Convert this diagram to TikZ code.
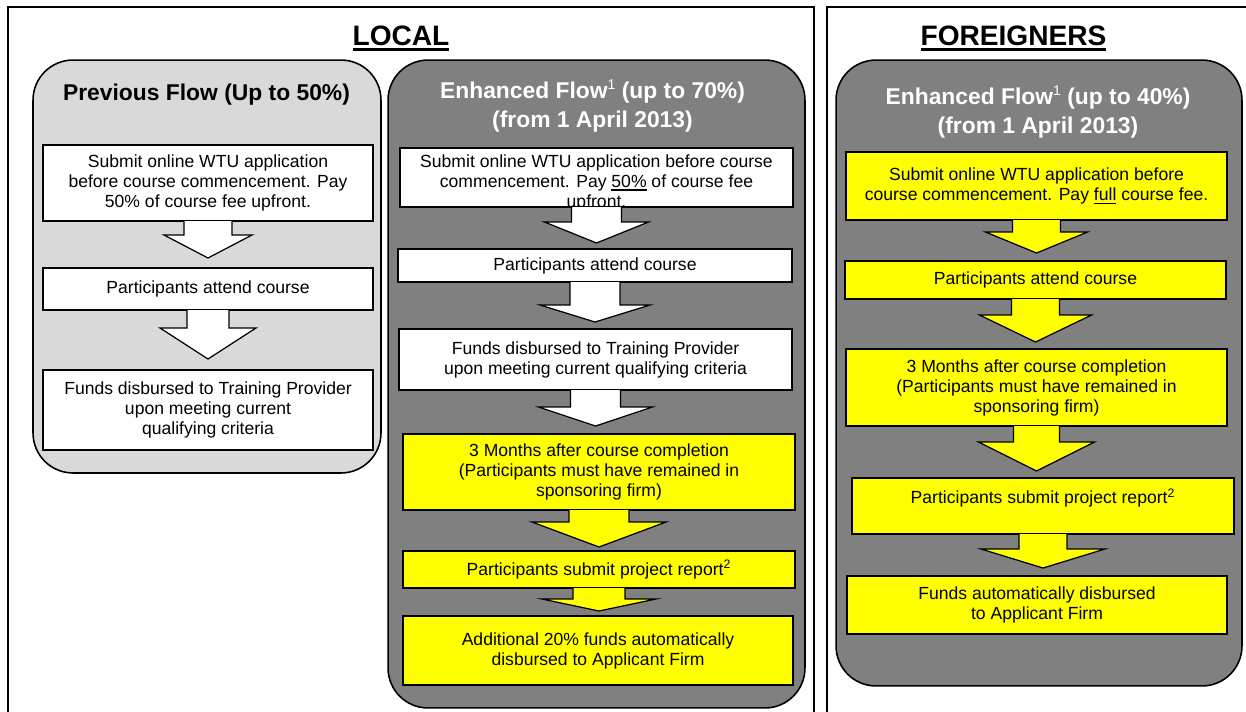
\documentclass[tikz,border=0pt]{standalone}
\usepackage{fontspec}
\setmainfont{Liberation Sans}
\usetikzlibrary{calc}
\definecolor{panellight}{HTML}{D9D9D9}
\definecolor{paneldark}{HTML}{808080}
\definecolor{stepyellow}{HTML}{FFFF00}
\newcommand{\undl}[1]{\setbox0\hbox{#1}\rlap{\rule[-0.2em]{\wd0}{0.08em}}\box0\relax}
\newcommand{\footmark}[1]{\raisebox{0.75ex}{\normalfont\fontsize{8}{8}\selectfont #1}}
\newcommand{\blockarrow}[7][white]{%
\draw[arrowv1,fill=#1] ($(#2.south)+(-#4,0)$) -- ($(#2.south)+(-#4,#6)$) -- ($(#2.south)+(-#5,#6)$) -- ($(#2.south |- #3.north)+(0,-#7)$) -- ($(#2.south)+(#5,#6)$) -- ($(#2.south)+(#4,#6)$) -- ($(#2.south)+(#4,0)$);}
\tikzset{
whiteboxv1/.style={rectangle, draw=black, fill=white, line width=0.8pt, inner xsep=2pt, inner ysep=0pt, outer sep=0pt, align=center, font=\fontsize{10}{11.4}\selectfont},
yellowboxv1/.style={whiteboxv1, fill=stepyellow},
boxtextv1/.style={align=center, inner sep=0pt, font=\fontsize{10}{11.4}\selectfont},
lightpanelv1/.style={rectangle, rounded corners=0.8cm, draw=black, fill=panellight, line width=0.9pt},
darkpanelv1/.style={lightpanelv1, fill=paneldark},
headingv1/.style={font=\fontsize{16}{19}\selectfont\bfseries, inner sep=0pt, anchor=base},
paneltitlev1/.style={font=\fontsize{13}{16.8}\selectfont\bfseries, align=center, inner sep=0pt},
arrowv1/.style={draw=black, line width=0.7pt},
framev1/.style={draw=black, line width=1.1pt},
}
\begin{document}
\begin{tikzpicture}[x=0.02cm, y=-0.02cm]
        \useasboundingbox (0,0) rectangle (1246,711);
        \begin{scope}
        \clip (0,0) rectangle (1246,711);
        \draw[framev1] (8,730) -- (8,7) -- (814,7) -- (814,730);
        \draw[framev1] (827,730) -- (827,7) -- (1270,7);
        \end{scope}
        \node[headingv1] at (401,45) (local) {\undl{LOCAL}};
        \node[headingv1] at (1013.5,45) (foreign) {\undl{FOREIGNERS}};
        \node[lightpanelv1, minimum width=6.96cm, minimum height=8.26cm] at (207,266.5) (lpanel) {};
        \node[darkpanelv1, minimum width=8.34cm, minimum height=12.96cm] at (596.5,384) (mpanel) {};
        \node[darkpanelv1, minimum width=8.12cm, minimum height=12.52cm] at (1039,373) (rpanel) {};
        \node[paneltitlev1, anchor=base] at (206.5,100) (ltitle) {Previous Flow (Up to 50\%)};
        \node[paneltitlev1, text=white] at (592.5,106) (mtitle) {Enhanced Flow\footmark{1} (up to 70\%)\\(from 1 April 2013)};
        \node[paneltitlev1, text=white] at (1038,112) (rtitle) {Enhanced Flow\footmark{1} (up to 40\%)\\(from 1 April 2013)};
        \node[whiteboxv1, minimum width=6.6cm, minimum height=1.52cm] at (208,183) (lp1) {Submit online WTU application\\before course commencement. Pay\\50\% of course fee upfront.};
        \node[whiteboxv1, minimum width=6.6cm, minimum height=0.84cm] at (208,289) (lp2) {Participants attend course};
        \node[whiteboxv1, minimum width=6.6cm, minimum height=1.6cm] at (208,410) (lp3) {Funds disbursed to Training Provider\\upon meeting current\\qualifying criteria};
        \blockarrow{lp1}{lp2}{24}{44}{14}{10}
        \blockarrow{lp2}{lp3}{21}{48}{18}{11}
        \node[whiteboxv1, minimum width=7.86cm, minimum height=1.18cm] at (596.5,177.5) (mp1) {};
        \node[boxtextv1] at (596.5,182.5) (mp1text) {Submit online WTU application before course\\commencement. Pay \undl{50\%} of course fee\\upfront.};
        \node[whiteboxv1, minimum width=7.88cm, minimum height=0.66cm] at (595,265.5) (mp2) {Participants attend course};
        \node[whiteboxv1, minimum width=7.86cm, minimum height=1.22cm] at (595.5,359.5) (mp3) {Funds disbursed to Training Provider\\upon meeting current qualifying criteria};
        \node[yellowboxv1, minimum width=7.84cm, minimum height=1.52cm] at (599,472) (mp4) {3 Months after course completion\\(Participants must have remained in\\sponsoring firm)};
        \node[yellowboxv1, minimum width=7.84cm, minimum height=0.74cm] at (599,569.5) (mp5) {Participants submit project report\textsuperscript{2}};
        \node[yellowboxv1, minimum width=7.8cm, minimum height=1.38cm] at (598,650.5) (mp6) {Additional 20\% funds automatically\\disbursed to Applicant Firm};
        \blockarrow{mp1}{mp2}{25}{52}{15}{6}
        \blockarrow{mp2}{mp3}{25}{55}{23}{7}
        \blockarrow{mp3}{mp4}{25}{57}{17}{8}
        \blockarrow[stepyellow]{mp4}{mp5}{30}{67}{12}{4}
        \blockarrow[stepyellow]{mp5}{mp6}{26}{57}{11}{5}
        \node[yellowboxv1, minimum width=7.62cm, minimum height=1.36cm] at (1036.5,186) (rp1) {Submit online WTU application before\\course commencement. Pay \undl{full} course fee.};
        \node[yellowboxv1, minimum width=7.62cm, minimum height=0.76cm] at (1035.5,280) (rp2) {Participants attend course};
        \node[yellowboxv1, minimum width=7.62cm, minimum height=1.54cm] at (1036.5,387.5) (rp3) {3 Months after course completion\\(Participants must have remained in\\sponsoring firm)};
        \node[yellowboxv1, minimum width=7.64cm, minimum height=1.12cm] at (1043,506) (rp4) {Participants submit project report\textsuperscript{2}\\\mbox{}};
        \node[yellowboxv1, minimum width=7.6cm, minimum height=1.16cm] at (1037,605) (rp5) {Funds automatically disbursed\\to Applicant Firm};
        \blockarrow[stepyellow]{rp1}{rp2}{24}{51}{12}{8}
        \blockarrow[stepyellow]{rp2}{rp3}{24}{56}{16}{7}
        \blockarrow[stepyellow]{rp3}{rp4}{23}{58}{16}{7}
        \blockarrow[stepyellow]{rp4}{rp5}{24}{62}{15}{8}
\end{tikzpicture}
\end{document}
